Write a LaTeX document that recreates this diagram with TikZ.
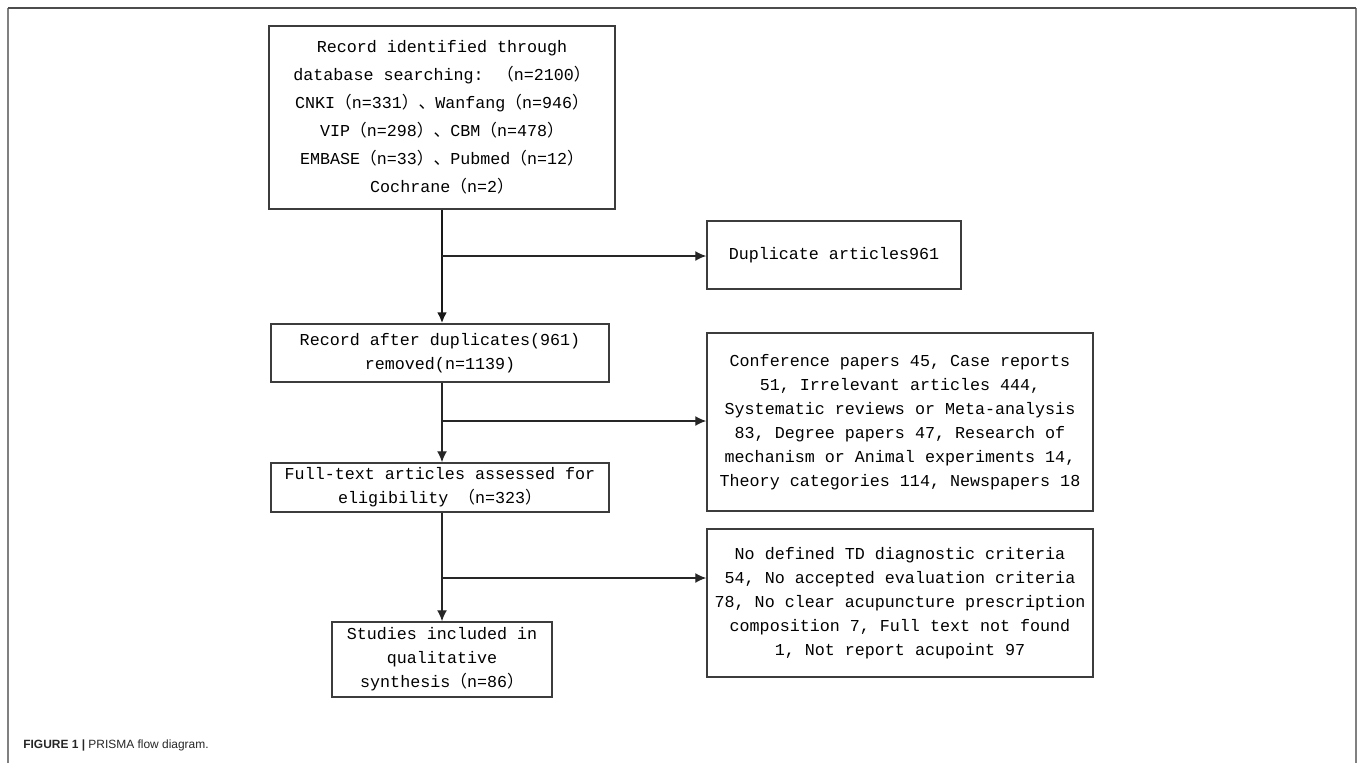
\documentclass[tikz,border=0pt]{standalone}
\usepackage{fontspec}
\usepackage{tikz}
\usetikzlibrary{calc,arrows.meta}
\newfontfamily\boxfont{Liberation Mono}
\newfontfamily\cjk{Noto Sans CJK SC}
\newfontfamily\capfont{Liberation Sans}
\newcommand{\cnlp}{{\cjk （}}
\newcommand{\cnrp}{{\cjk ）}}
\newcommand{\cndun}{{\cjk 、}}
\definecolor{boxgray}{RGB}{60,60,60}
\definecolor{framegray}{RGB}{128,128,128}
\tikzset{>={Latex[length=2.2mm,width=2mm]},
  box/.style={draw=boxgray, line width=0.85pt, inner sep=2pt, align=center,
    font=\boxfont\fontsize{9.5pt}{13.7pt}\selectfont},
  flow/.style={->, line width=0.8pt, black!85},
  mainflow/.style={->, line width=1.6pt, black!90}}

\begin{document}
\begin{tikzpicture}
    \useasboundingbox (0,0) rectangle (27.16,-15.26);
    % frame round the figure
    \draw[framegray, line width=1pt] (0.16,-15.26) -- (0.16,-0.16);
    \draw[framegray, line width=1pt] (27.12,-15.26) -- (27.12,-0.16);
    \draw[black!70, line width=1pt] (0.16,-0.16) -- (27.12,-0.16);

    % left column
    \node[box, minimum width=6.92cm, minimum height=3.66cm, font=\boxfont\fontsize{9.5pt}{15.9pt}\selectfont] (ident) at (8.84,-2.35)
      {Record identified through\\database searching: \cnlp n=2100\cnrp\\CNKI\cnlp n=331\cnrp\cndun Wanfang\cnlp n=946\cnrp\\VIP\cnlp n=298\cnrp\cndun CBM\cnlp n=478\cnrp\\EMBASE\cnlp n=33\cnrp\cndun Pubmed\cnlp n=12\cnrp\\Cochrane\cnlp n=2\cnrp};
    \node[box, minimum width=6.76cm, minimum height=1.16cm] (removed) at (8.80,-7.06)
      {Record after duplicates(961)\\removed(n=1139)};
    \node[box, minimum width=6.76cm, minimum height=0.98cm] (fulltext) at (8.80,-9.75)
      {Full-text articles assessed for\\eligibility \cnlp n=323\cnrp};
    \node[box, minimum width=4.40cm, minimum height=1.5cm] (included) at (8.84,-13.19)
      {Studies included in\\qualitative\\synthesis\cnlp n=86\cnrp};

    % right column
    \node[box, minimum width=5.08cm, minimum height=1.36cm] (dup) at (16.68,-5.10) {Duplicate articles961};
    \node[box, minimum width=7.72cm, minimum height=3.56cm] (excl1) at (18.0,-8.44)
      {Conference papers 45, Case reports\\51, Irrelevant articles 444,\\Systematic reviews or Meta-analysis\\83, Degree papers 47, Research of\\mechanism or Animal experiments 14,\\Theory categories 114, Newspapers 18};
    \node[box, minimum width=7.72cm, minimum height=2.96cm] (excl2) at (18.0,-12.06)
      {No defined TD diagnostic criteria\\54, No accepted evaluation criteria\\78, No clear acupuncture prescription\\composition 7, Full text not found\\1, Not report acupoint 97};

    % branch points
    \coordinate (b1) at (8.84,-5.12);
    \coordinate (b2) at (8.84,-8.42);
    \coordinate (b3) at (8.84,-11.56);

    \draw[mainflow] (ident.south) -- (ident.south |- removed.north);
    \draw[flow] (b1) -- (b1 -| dup.west);
    \draw[flow] (ident.south |- removed.south) -- (ident.south |- fulltext.north);
    \draw[flow] (b2) -- (b2 -| excl1.west);
    \draw[flow] (ident.south |- fulltext.south) -- (ident.south |- included.north);
    \draw[flow] (b3) -- (b3 -| excl2.west);

    \node[anchor=west, inner sep=0pt, text=black!85, font=\capfont\fontsize{6.8pt}{8pt}\selectfont] (caption) at (0.46,-14.9)
      {\textbf{FIGURE 1 |} PRISMA flow diagram.};
\end{tikzpicture}
\end{document}
